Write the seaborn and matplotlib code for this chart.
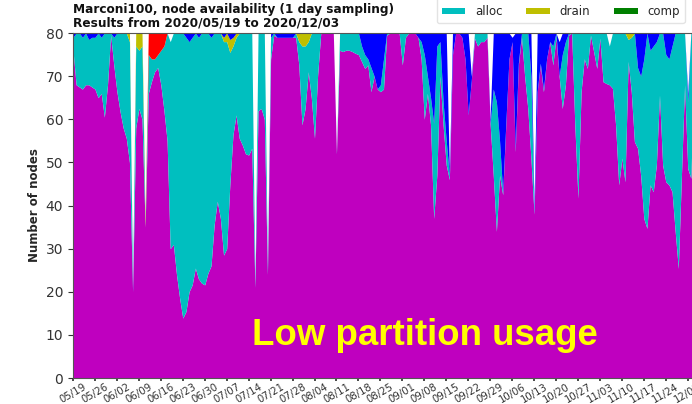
import numpy as np
import pandas as pd
import matplotlib
matplotlib.use('Agg')
import matplotlib.pyplot as plt
import seaborn as sns

# ---------------- data ----------------
start_date = '2020-05-19'
end_date = '2020-12-03'

idle = [76, 68, 67.5, 67, 68, 68, 67.5, 67, 65, 66,                 # 0-9
        60.5, 68, 79.5, 72.6, 66.4, 61.8, 58, 55.6, 50, 20,         # 10-19
        58, 62.5, 60, 35, 66, 68.7, 71, 72, 68, 62,                 # 20-29
        55, 30, 31, 24, 18.5, 13.9, 15.4, 20, 21.6, 25.5,           # 30-39
        23, 22, 21.6, 24.3, 26, 35.5, 41, 37, 28.5, 30,             # 40-49
        44.8, 56.4, 61, 55.6, 54, 52, 51.7, 53.3, 21, 62,           # 50-59
        62.5, 60, 24, 74, 79.5, 79, 79, 79, 79, 79,                 # 60-69
        79, 79, 72.6, 58.7, 62.5, 71, 64.9, 55.6, 70.3, 80,         # 70-79
        80, 80, 80, 80, 52, 76, 75.7, 76, 76, 75.7,                 # 80-89
        75.3, 75, 73.4, 71.8, 72.6, 66.4, 70, 67, 66.4, 67,         # 90-99
        79.5, 80, 80, 80, 80, 72.6, 79, 80, 80, 80,                 # 100-109
        79, 74, 60, 66, 58.7, 37, 47, 70, 58.7, 49.4,               # 110-119
        46, 75, 80, 80, 79, 74, 61, 69, 78.8, 77,                   # 120-129
        78, 78, 79, 59, 47, 34, 47, 42.5, 58.7, 74,                 # 130-139
        78, 52.5, 72.6, 79, 70, 62.5, 51, 38, 66.4, 72.6,           # 140-149
        66.4, 74, 78, 72.6, 79, 70, 62.5, 68, 79.5, 80,             # 150-159
        58.7, 41.7, 66.4, 74, 71.8, 79.5, 75.7, 71.8, 78.8, 68.7,   # 160-169
        68.3, 68, 67.2, 58.7, 44.8, 51, 45.5, 73.4, 66.4, 54.8,     # 170-179
        53.3, 47, 37, 34.7, 44.8, 43.2, 49.4, 65.6, 49.4, 45.5,     # 180-189
        44.8, 43.2, 34, 25.4, 47, 68, 48.6, 46.3, 70]               # 190-198

alloc = [3, 12, 12.5, 12, 12, 10.5, 11.5, 12, 15, 13,               # 0-9
         19.5, 12, 0.5, 6.4, 13.6, 18.2, 22, 24.4, 28, 0,           # 10-19
         19, 13.5, 17, 0, 9, 5.3, 3, 3, 8, 15,                      # 20-29
         25, 48, 49, 56, 61.5, 66.1, 63.6, 58, 57.4, 54.5,          # 30-39
         56, 58, 58.4, 55.7, 53, 44.5, 39, 43, 49.5, 48,            # 40-49
         30.7, 20.6, 18, 24.4, 26, 28, 28.3, 26.7, 1, 18,           # 50-59
         17.5, 20, 2, 5, 0.5, 0, 0, 0, 0, 0,                        # 60-69
         0, 1, 5.4, 18.3, 14.5, 7, 15.1, 24.4, 9.7, 0,              # 70-79
         0, 0, 0, 0, 0.5, 4, 4.3, 4, 4, 4.3,                        # 80-89
         4.7, 5, 3.6, 3.2, 1.4, 5.6, 0, 0, 1.6, 7,                  # 90-99
         0.5, 0, 0, 0, 0, 7.4, 1, 0, 0, 0,                          # 100-109
         0, 4, 15, 4, 6.3, 22, 30, 8, 5.3, 5.6,                     # 110-119
         1, 0, 0, 0, 0, 0, 0, 0, 1.2, 3,                            # 120-129
         2, 2, 1, 0, 20, 30, 8, 0.5, 0.3, 0,                        # 130-139
         0, 0.5, 0.4, 1, 10, 17.5, 19, 0.5, 0, 0.4,                 # 140-149
         0.6, 0, 0, 4.4, 1, 0, 12.5, 10, 0.5, 0,                    # 150-159
         21.3, 38.3, 13.6, 6, 8.2, 0.5, 4.3, 8.2, 1.2, 11.3,        # 160-169
         11.7, 9, 12.8, 21.3, 35.2, 29, 34.5, 5.1, 12.6, 25.2,      # 170-179
         18.7, 23, 37, 45.3, 31.2, 33.8, 28.6, 14.4, 30.6, 29.5,    # 180-189
         29.2, 33.8, 46, 54.6, 33, 12, 15.4, 33.7, 10]              # 190-198

# sparse states: {day index: nodes}, zero on every other day
down_days = {24: 5, 25: 6, 26: 6, 27: 5, 28: 4, 29: 3}
drain_days = {18: 2, 20: 3, 21: 4, 22: 3, 23: 2, 48: 1, 49: 2, 50: 3, 51: 2,
              52: 1, 72: 2, 73: 3, 74: 3, 75: 2, 177: 1.5, 178: 1}
mix_days = {0: 1, 3: 1, 5: 1.5, 6: 1, 7: 1, 9: 1, 13: 1, 19: 1, 36: 1, 37: 2,
            38: 1, 40: 1, 44: 1, 48: 1, 50: 1.5, 51: 1, 63: 1, 65: 1, 66: 1,
            67: 1, 68: 1, 69: 1, 70: 1, 92: 3, 93: 5, 94: 6, 95: 8, 96: 10,
            97: 13, 98: 12, 99: 6, 110: 1, 111: 2, 112: 5, 113: 10, 114: 15,
            115: 21, 116: 3, 117: 2, 118: 16, 119: 25, 120: 1, 121: 5, 124: 1,
            125: 6, 126: 19, 127: 1, 133: 1, 134: 13, 135: 16, 136: 25,
            137: 37, 138: 21, 139: 6, 140: 1, 141: 27, 142: 7, 146: 10,
            147: 1, 148: 13.6, 149: 7, 150: 13, 151: 6, 152: 2, 153: 3,
            155: 8, 156: 5, 157: 2, 180: 8, 181: 10, 182: 6, 184: 4, 185: 3,
            186: 2, 189: 5, 190: 6, 191: 3, 196: 2}
comp_days = {}

states = ['idle', 'alloc', 'down', 'drain', 'mix', 'comp']
state_colors = ['#bf00bf', '#00bfbf', '#ff0000', '#bfbf00', '#0000ff', '#008000']
tick_labels = ['05/19', '05/26', '06/02', '06/09', '06/16', '06/23', '06/30',
               '07/07', '07/14', '07/21', '07/28', '08/04', '08/11', '08/18',
               '08/25', '09/01', '09/08', '09/15', '09/22', '09/29', '10/06',
               '10/13', '10/20', '10/27', '11/03', '11/10', '11/17', '11/24',
               '12/01']
y_ticks = [0, 10, 20, 30, 40, 50, 60, 70, 80]
title_text = ('Marconi100, node availability (1 day sampling)\n'
              'Results from 2020/05/19 to 2020/12/03')
overlay_text = 'Low partition usage'

# ---------------- build table ----------------
dates = pd.date_range(start_date, end_date, freq='D')
n = len(dates)


def from_sparse(d):
    arr = np.zeros(n)
    for k, v in d.items():
        arr[k] = v
    return arr


df = pd.DataFrame({'idle': idle, 'alloc': alloc,
                   'down': from_sparse(down_days),
                   'drain': from_sparse(drain_days),
                   'mix': from_sparse(mix_days),
                   'comp': from_sparse(comp_days)}, index=dates)

# ---------------- plot ----------------
sns.set_theme(style='ticks', color_codes=False)
plt.rcParams['font.family'] = ['DejaVu Sans']

W, H = 692, 404
fig = plt.figure(figsize=(W / 100, H / 100), dpi=100)
ax = fig.add_axes([73 / W, 26 / H, (694 - 73) / W, 345 / H])

ax.stackplot(df.index, *[df[s].values for s in states],
             colors=state_colors, labels=states, linewidth=0)

ax.set_xlim(dates[0], dates[-1])
ax.set_ylim(0, 80)
ax.set_yticks(y_ticks)
ax.tick_params(axis='y', labelsize=10, colors='#333333', length=3.5, width=0.8)
ax.set_xticks(dates[::7])
ax.set_xticklabels(tick_labels, rotation=30, fontsize=7.3, color='#333333')
ax.tick_params(axis='x', length=2, pad=0.5, colors='#333333')
for s in ax.spines.values():
    s.set_linewidth(0.8)
    s.set_color('#555555')

ax.set_ylabel('Number of nodes', fontsize=8.5, fontweight='bold', labelpad=3)
ax.set_xlabel('Days', fontsize=8.5, fontweight='bold', labelpad=-1)

fig.text(73 / W, 1 - 3 / H, title_text, ha='left', va='top', fontsize=8.7,
         fontweight='bold', linespacing=1.05, color='#111111')

leg = fig.legend(*ax.get_legend_handles_labels(), ncol=3, loc='lower left',
                 bbox_to_anchor=(437 / W, 1 - 23 / H), fontsize=8.5,
                 frameon=True, edgecolor='#dddddd', fancybox=True,
                 columnspacing=2.0, handlelength=2.0, handleheight=0.5,
                 labelspacing=0.2, borderaxespad=0)

fig.text(252 / W, 1 - 345 / H, overlay_text, ha='left', va='baseline',
         fontsize=26.4, fontweight='bold', color='#ffff00',
         family=['Liberation Sans', 'DejaVu Sans'])

fig.savefig('out.png', dpi=100)
